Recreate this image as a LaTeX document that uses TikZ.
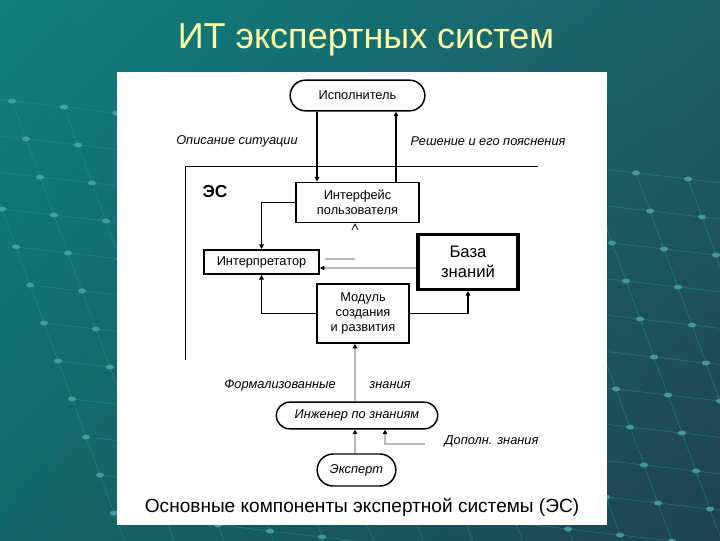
\documentclass[tikz,border=0pt]{standalone}
\usepackage{fontspec}
\setmainfont{Liberation Sans}
\usetikzlibrary{shapes.misc,arrows.meta,calc,shadings}
\definecolor{slideUL}{RGB}{15,128,124}
\definecolor{slideUR}{RGB}{28,96,104}
\definecolor{slideLL}{RGB}{18,104,106}
\definecolor{slideLR}{RGB}{30,66,80}
\definecolor{titleYellow}{RGB}{255,255,168}
\definecolor{gridTeal}{RGB}{40,150,148}
\tikzset{
  block/.style={draw, line width=1.4pt, align=center, inner sep=1pt,
    font=\fontsize{9.6}{11.5}\selectfont},
  pill/.style={draw, rounded rectangle, line width=1.1pt, inner sep=0pt,
    font=\fontsize{9.6}{11.5}\selectfont},
  lbl/.style={font=\itshape\fontsize{9.6}{11.5}\selectfont},
  arr/.style={-{Triangle[length=3.5pt,width=3.5pt]}, line width=0.8pt},
  greyarr/.style={-{Triangle[black,length=3.5pt,width=3.5pt]}, line width=0.8pt, draw=gray!55},
  gridline/.style={draw=gridTeal, line width=0.6pt, opacity=0.45},
  griddot/.style={fill=gridTeal!80!white, opacity=0.75}
}

\begin{document}
\begin{tikzpicture}[x=0.75pt,y=-0.75pt]
\useasboundingbox (0,0) rectangle (720,540);
\shade[upper left=slideUL, upper right=slideUR, lower left=slideLL, lower right=slideLR]
  (0,0) rectangle (720,540);
\begin{scope}
\clip (0,90) rectangle (720,540);
\foreach \j in {0,...,12}
  \draw[gridline] (-40+14*\j,95+38*\j) -- ++(52*16,6*16);
\foreach \i in {0,...,16}
  \draw[gridline] (-40+52*\i,95+6*\i) -- ++(14*12,38*12);
\foreach \i in {0,...,16}
  \foreach \j in {0,...,12}
    \fill[griddot] (-40+52*\i+14*\j,95+6*\i+38*\j) ellipse (4 and 2.5);
\end{scope}
\node[text=titleYellow, font=\fontsize{27}{32}\selectfont] (title) at (366,40) {ИТ экспертных систем};
\fill[white] (117,72) rectangle (607,525);

\draw[line width=0.75pt] (538,166) -- (185,166) -- (185,360);
\node[font=\bfseries\fontsize{13}{15}\selectfont] (es) at (215,192) {ЭС};

\node[pill, minimum width=101pt, minimum height=23pt] (user) at (357.5,95.5) {Исполнитель};
\node[block, minimum width=92pt, minimum height=30pt] (iface) at (357.5,202.5) {Интерфейс\\пользователя};
\node[block, minimum width=86pt, minimum height=18pt] (interp) at (261.5,262) {Интерпретатор};
\node[block, line width=2.6pt, minimum width=75pt, minimum height=41pt,
  font=\fontsize{12.5}{15}\selectfont] (kb) at (468,262) {База\\знаний};
\node[block, minimum width=69pt, minimum height=44pt] (module) at (363,313.5) {Модуль\\создания\\и развития};
\node[pill, font=\itshape\fontsize{9.6}{11.5}\selectfont, minimum width=121pt, minimum height=20pt] (engineer) at (357,415.5) {Инженер по знаниям};
\node[pill, font=\itshape\fontsize{9.6}{11.5}\selectfont, minimum width=59pt, minimum height=24pt] (expert) at (356.5,470) {Эксперт};

\node[lbl] (sit) at (237,141) {Описание ситуации};
\node[lbl] (sol) at (488,141) {Решение и его пояснения};
\node[lbl] (form1) at (280,385) {Формализованные};
\node[lbl] (form2) at (390,385) {знания};
\node[lbl, anchor=west] (extra) at (440,441) {Дополн. знания};

\draw[arr] ($(user.south)+(-40.5,0)$) coordinate (u1) -- (u1 |- iface.north);
\draw[arr] ($(iface.north)+(38.5,0)$) coordinate (u2) -- (u2 |- user.south);
\draw[arr] (iface.west) -| (interp.north);
\draw[arr] (module.west) -| (interp.south);
\draw[arr] (module.east) -| (kb.south);
\draw[greyarr] ($(kb.west)+(0,6)$) coordinate (k1) -- (k1 -| interp.east);
\draw[draw=gray!55, line width=0.8pt] (325,259) -- (355,259);
\draw[line width=0.6pt] (352,230) -- (355,224) -- (358,230);
\draw[greyarr] ($(engineer.north)+(-2,0)$) coordinate (e1) -- (e1 |- module.south);
\draw[greyarr] ($(expert.north)+(-1.5,0)$) coordinate (x1) -- (x1 |- engineer.south);
\coordinate (extraend) at (425,444);
\draw[greyarr] (extraend) -| ($(engineer.south)+(28,0)$);

\node[font=\fontsize{14.3}{17}\selectfont] (caption) at (362,507) {Основные компоненты экспертной системы (ЭС)};
\end{tikzpicture}
\end{document}
